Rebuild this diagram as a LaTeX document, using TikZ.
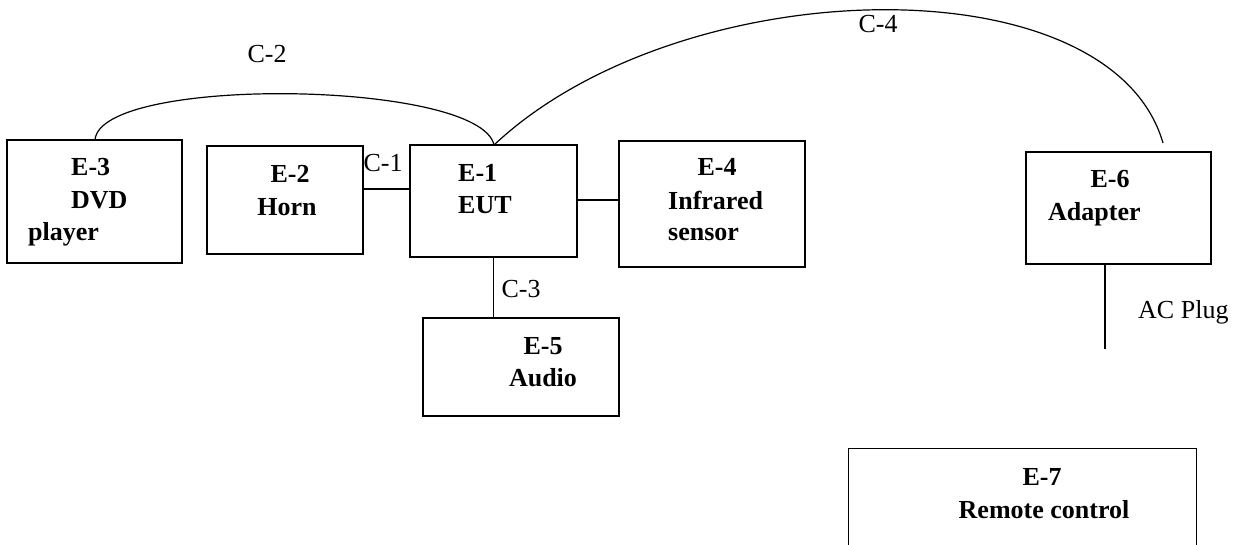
\documentclass[tikz,border=0pt]{standalone}
\usepackage{fontspec}
\setmainfont{Liberation Serif}
\begin{document}
\begin{tikzpicture}[x=1pt,y=-1pt,
  box/.style={draw,line width=1.2pt,inner sep=0pt,rectangle},
  lbl/.style={font=\bfseries\fontsize{26}{32}\selectfont,inner sep=0pt},
  clbl/.style={font=\fontsize{26}{32}\selectfont,inner sep=0pt},
  wire/.style={line width=1.2pt}]
\path[use as bounding box] (0,0) rectangle (1244,545);
% boxes
\node[box,minimum width=175pt,minimum height=123pt] (e3) at (94.5,201.5) {};
\node[box,minimum width=156pt,minimum height=108pt] (e2) at (285,200) {};
\node[box,minimum width=167pt,minimum height=112pt] (e1) at (493.5,201) {};
\node[box,minimum width=186pt,minimum height=126pt] (e4) at (712,204) {};
\node[box,minimum width=196pt,minimum height=98pt] (e5) at (521,367) {};
\node[box,minimum width=185pt,minimum height=112pt] (e6) at (1118.5,208) {};
\node[inner sep=0pt,minimum width=347pt,minimum height=96pt] (e7) at (1022.5,497) {};
\draw[wire] (e7.south west) |- (e7.north east) -- (e7.south east);
% texts
\node[lbl,anchor=base west] (t3a) at (71,176) {E-3};
\node[lbl,anchor=base west] (t3b) at (71,209) {DVD};
\node[lbl,anchor=base west] (t3c) at (28,241) {player};
\node[lbl,anchor=base] (t2a) at (290,183) {E-2};
\node[lbl,anchor=base] (t2b) at (287,216) {Horn};
\node[lbl,anchor=base west] (t1a) at (458,182) {E-1};
\node[lbl,anchor=base west] (t1b) at (458,214) {EUT};
\node[lbl,anchor=base] (t4a) at (717,176) {E-4};
\node[lbl,anchor=base west] (t4b) at (668,210) {Infrared};
\node[lbl,anchor=base west] (t4c) at (668,241) {sensor};
\node[lbl,anchor=base] (t5a) at (543,354) {E-5};
\node[lbl,anchor=base] (t5b) at (543,386) {Audio};
\node[lbl,anchor=base] (t6a) at (1110,188) {E-6};
\node[lbl,anchor=base west] (t6b) at (1048,221) {Adapter};
\node[lbl,anchor=base] (t7a) at (1042,485) {E-7};
\node[lbl,anchor=base] (t7b) at (1044,518) {Remote control};
% connectors
\draw[wire] (e2.east |- 0,189) -- (e1.west |- 0,189);
\draw[wire] (e1.east |- 0,200) -- (e4.west |- 0,200);
\draw[wire] (e1.south) -- (e1.south |- e5.north);
\coordinate (acend) at (1105,349);
\draw[wire] (e6.south -| acend) -- (acend);
\coordinate (e3top) at (95,140);
\coordinate (e1top) at (494,145);
\coordinate (e6top) at (1163,143);
\draw[wire] (e3top) .. controls (100,75) and (480,80) .. (e1top);
\draw[wire] (e1top) .. controls (680,-30) and (1110,-40) .. (e6top);
% connector labels
\node[clbl,anchor=base] (c1) at (383,172) {C-1};
\node[clbl,anchor=base] (c2) at (267,63) {C-2};
\node[clbl,anchor=base] (c3) at (521,298) {C-3};
\node[clbl,anchor=base] (c4) at (878,33) {C-4};
\node[clbl,anchor=base west] (ac) at (1138,318) {AC Plug};
\end{tikzpicture}
\end{document}
